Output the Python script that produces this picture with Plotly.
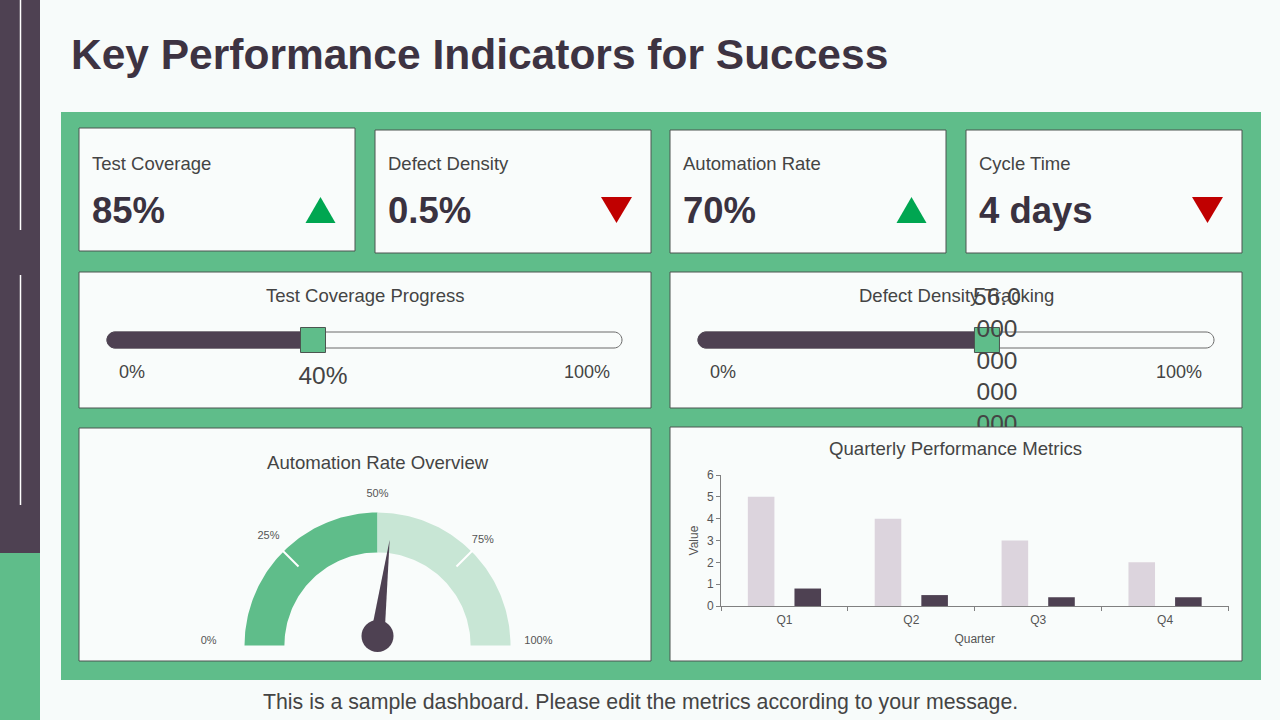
import math
import numpy as np
import plotly.graph_objects as go

W, H = 1280, 720

# ---------------- data ----------------
page_title = "Key Performance Indicators for Success"
footer_text = "This is a sample dashboard. Please edit the metrics according to your message."

kpi_names = ["Test Coverage", "Defect Density", "Automation Rate", "Cycle Time"]
kpi_values = ["85%", "0.5%", "70%", "4 days"]
kpi_trends = ["up", "down", "up", "down"]

progress_titles = ["Test Coverage Progress", "Defect Density Tracking"]
progress_values = [40, 56]
progress_labels = ["40%", "56.0<br>000<br>000<br>000<br>000"]
progress_end_labels = ["0%", "100%"]

gauge_title = "Automation Rate Overview"
gauge_value = 54
gauge_bands = [(0, 50), (50, 100)]
gauge_ticks = [0, 25, 50, 75, 100]
gauge_tick_labels = ["0%", "25%", "50%", "75%", "100%"]

bar_title = "Quarterly Performance Metrics"
quarters = ["Q1", "Q2", "Q3", "Q4"]
series_a = [5, 4, 3, 2]
series_b = [0.8, 0.5, 0.4, 0.4]

# ---------------- style ----------------
FONT = "Liberation Sans, Arial, sans-serif"
BG = "#F7FBFA"
CARD = "#F9FCFB"
GREEN = "#5FBD8A"
LIGHT_GREEN = "#C8E6D5"
PURPLE = "#4E4152"
BORDER = "#4C5550"
TEXT = "#444444"
DARK = "#3A3240"
UP = "#00A651"
DOWN = "#C00000"


def fx(x):
    return x / W


def fy(y):
    return 1 - y / H


shapes = []
annotations = []
fig = go.Figure()


def rect(x0, y0, x1, y1, fill, line=None, lw=0):
    shapes.append(dict(type="rect", xref="paper", yref="paper",
                       x0=fx(x0), x1=fx(x1), y0=fy(y1), y1=fy(y0),
                       fillcolor=fill, line=dict(color=line or fill, width=lw),
                       layer="below"))


def text(x, y, s, size, color=TEXT, xanchor="left", bold=False):
    annotations.append(dict(x=fx(x), y=fy(y), xref="paper", yref="paper",
                            text=f"<b>{s}</b>" if bold else s, showarrow=False,
                            xanchor=xanchor, yanchor="middle",
                            font=dict(size=size, color=color, family=FONT)))


# ---------------- page frame ----------------
rect(0, 0, 40, 553, PURPLE)
rect(0, 553, 40, 720, GREEN)
for y0, y1 in [(0, 230), (275, 505)]:
    shapes.append(dict(type="line", xref="paper", yref="paper", x0=fx(20.5), x1=fx(20.5),
                       y0=fy(y0), y1=fy(y1), line=dict(color="white", width=1.5), layer="below"))
text(69, 55, page_title, 42.5, color="#3D3342", bold=True)
rect(61, 112, 1261, 680, GREEN)
text(640, 702, footer_text, 21.3, color=TEXT, xanchor="center")

# ---------------- KPI cards ----------------
kpi_boxes = [(79, 128, 355, 251), (375, 130, 651, 253), (670, 130, 946, 253), (966, 130, 1242, 253)]
for name, val, trend, (x0, y0, x1, y1) in zip(kpi_names, kpi_values, kpi_trends, kpi_boxes):
    rect(x0, y0, x1, y1, CARD, BORDER, 1)
    text(x0 + 10.5, 164, name, 18.5, TEXT)
    text(x0 + 10.5, 210, val, 36.5, DARK, bold=True)
    cx, cy = x1 - 34.5, 210
    if trend == "up":
        pts = [(cx - 15, cy + 13), (cx + 15, cy + 13), (cx, cy - 13)]
        col = UP
    else:
        pts = [(cx - 15.5, cy - 13), (cx + 15.5, cy - 13), (cx, cy + 13)]
        col = DOWN
    path = "M " + " L ".join(f"{fx(px_):.5f},{fy(py_):.5f}" for px_, py_ in pts) + " Z"
    shapes.append(dict(type="path", xref="paper", yref="paper", path=path,
                       fillcolor=col, line=dict(width=0), layer="below"))

# ---------------- progress cards ----------------
prog_boxes = [(79, 272, 651, 408), (670, 272, 1242, 408)]
tracks = [(107, 622), (698, 1214)]
label_y = [378, 362.5]
BAR_Y = 340
R_PX = 8


def capsule(x0, x1, yc, rx, ry):
    k = 0.5523
    return (f"M {x0 + rx},{yc - ry} L {x1 - rx},{yc - ry} "
            f"C {x1 - rx + k * rx},{yc - ry} {x1},{yc - k * ry} {x1},{yc} "
            f"C {x1},{yc + k * ry} {x1 - rx + k * rx},{yc + ry} {x1 - rx},{yc + ry} "
            f"L {x0 + rx},{yc + ry} "
            f"C {x0 + rx - k * rx},{yc + ry} {x0},{yc + k * ry} {x0},{yc} "
            f"C {x0},{yc - k * ry} {x0 + rx - k * rx},{yc - ry} {x0 + rx},{yc - ry} Z")


layout_axes = {}
for i, (title, v, lab) in enumerate(zip(progress_titles, progress_values, progress_labels)):
    n = i + 1
    xa = "x" if n == 1 else f"x{n}"
    ya = "y" if n == 1 else f"y{n}"
    L, R = tracks[i]
    span = R - L
    pad = 12
    bx0, by0, bx1, by1 = prog_boxes[i]
    rect(bx0, by0, bx1, by1, CARD, BORDER, 1)
    layout_axes["xaxis" if n == 1 else f"xaxis{n}"] = dict(
        domain=[fx(L - pad), fx(R + pad)], range=[-pad / span * 100, 100 + pad / span * 100],
        visible=False, fixedrange=True, automargin=False)
    layout_axes["yaxis" if n == 1 else f"yaxis{n}"] = dict(
        domain=[fy(427), fy(by0)], range=[427, by0], visible=False, fixedrange=True,
        automargin=False)
    rx = R_PX / span * 100
    shapes.append(dict(type="path", xref=xa, yref=ya, path=capsule(0, 100, BAR_Y, rx, R_PX),
                       fillcolor=CARD, line=dict(color="#6A6A6A", width=1), layer="below"))
    shapes.append(dict(type="path", xref=xa, yref=ya, path=capsule(0, v, BAR_Y, rx, R_PX),
                       fillcolor=PURPLE, line=dict(color=PURPLE, width=1), layer="below"))
    fig.add_trace(go.Scatter(x=[v], y=[BAR_Y], mode="markers", xaxis=xa, yaxis=ya,
                             marker=dict(symbol="square", size=25, color=GREEN,
                                         line=dict(color=BORDER, width=1)),
                             cliponaxis=False, hoverinfo="skip", showlegend=False))
    fig.add_trace(go.Scatter(x=[v + 10 / span * 100], y=[label_y[i]], mode="text", text=[lab],
                             textposition="middle center", xaxis=xa, yaxis=ya,
                             textfont=dict(size=24.5, color=TEXT, family=FONT),
                             cliponaxis=True, hoverinfo="skip", showlegend=False))
    text((bx0 + bx1) / 2, 295, title, 18.5, TEXT, xanchor="center")
    text(L + 10, 372, progress_end_labels[0], 18, TEXT, xanchor="left")
    text(R - 10, 372, progress_end_labels[1], 18, TEXT, xanchor="right")

# ---------------- gauge ----------------
rect(79, 428, 651, 661, CARD, BORDER, 1)
text(377.5, 462, gauge_title, 18.6, TEXT, xanchor="center")
CX, CY, S = 377.5, 645.5, 133.0
layout_axes["xaxis3"] = dict(domain=[fx(190), fx(566)], range=[(190 - CX) / S, (566 - CX) / S],
                             visible=False, fixedrange=True, automargin=False)
layout_axes["yaxis3"] = dict(domain=[fy(662), fy(468)], range=[(CY - 662) / S, (CY - 468) / S],
                             visible=False, fixedrange=True, automargin=False)
R_OUT, R_IN = 1.0, 0.70


def ang(v):
    return math.pi * (1 - v / 100.0)


for (a, b), col in zip(gauge_bands, [GREEN, LIGHT_GREEN]):
    vs = np.linspace(a, b, 80)
    th = np.pi * (1 - vs / 100.0)
    xs = list(R_OUT * np.cos(th)) + list(R_IN * np.cos(th[::-1]))
    ys = list(R_OUT * np.sin(th)) + list(R_IN * np.sin(th[::-1]))
    fig.add_trace(go.Scatter(x=xs, y=ys, mode="lines", fill="toself", fillcolor=col,
                             line=dict(width=0, color=col), xaxis="x3", yaxis="y3",
                             hoverinfo="skip", showlegend=False))
for t in gauge_ticks[1:-1]:
    if t == 50:
        continue
    th = ang(t)
    fig.add_trace(go.Scatter(x=[0.84 * math.cos(th), 1.01 * math.cos(th)],
                             y=[0.84 * math.sin(th), 1.01 * math.sin(th)],
                             mode="lines", line=dict(color="white", width=2),
                             xaxis="x3", yaxis="y3", hoverinfo="skip", showlegend=False))
label_r = [1.27, 1.16, 1.14, 1.12, 1.21]
fig.add_trace(go.Scatter(x=[r * math.cos(ang(t)) for r, t in zip(label_r, gauge_ticks)],
                         y=[r * math.sin(ang(t)) + (0.03 if t in (0, 100) else 0) for r, t in zip(label_r, gauge_ticks)],
                         mode="text", text=gauge_tick_labels, textposition="middle center",
                         textfont=dict(size=11, color="#555555", family=FONT),
                         xaxis="x3", yaxis="y3", cliponaxis=False, hoverinfo="skip", showlegend=False))
# needle
px0, py0 = 0.0, (CY - 636) / S
th = ang(gauge_value)
L_N, HW = 0.73, 7 / S
tipx, tipy = px0 + L_N * math.cos(th), py0 + L_N * math.sin(th)
b1x, b1y = px0 + HW * math.cos(th + math.pi / 2), py0 + HW * math.sin(th + math.pi / 2)
b2x, b2y = px0 + HW * math.cos(th - math.pi / 2), py0 + HW * math.sin(th - math.pi / 2)
fig.add_trace(go.Scatter(x=[b1x, tipx, b2x, b1x], y=[b1y, tipy, b2y, b1y], mode="lines",
                         fill="toself", fillcolor=PURPLE, line=dict(width=0, color=PURPLE),
                         xaxis="x3", yaxis="y3", hoverinfo="skip", showlegend=False))
fig.add_trace(go.Scatter(x=[px0], y=[py0], mode="markers",
                         marker=dict(symbol="circle", size=32, color=PURPLE),
                         xaxis="x3", yaxis="y3", cliponaxis=False, hoverinfo="skip", showlegend=False))

# ---------------- bar chart ----------------
rect(670, 427, 1242, 661, CARD, BORDER, 1)
text(955.5, 448, bar_title, 18.6, TEXT, xanchor="center")
fig.add_trace(go.Bar(x=quarters, y=series_a, marker=dict(color="#DCD4DD", line=dict(width=0)),
                     xaxis="x4", yaxis="y4", showlegend=False))
fig.add_trace(go.Bar(x=quarters, y=series_b, marker=dict(color=PURPLE, line=dict(width=0)),
                     xaxis="x4", yaxis="y4", showlegend=False))
axis_common = dict(showline=True, linecolor="#808080", linewidth=1, ticks="outside", ticklen=4,
                   tickcolor="#808080", showgrid=False, zeroline=False, fixedrange=True,
                   automargin=False,
                   tickfont=dict(size=12, color="#555555", family=FONT))
layout_axes["xaxis4"] = dict(domain=[fx(721), fx(1228.5)], anchor="y4", tickson="boundaries",
                             ticklabelstandoff=3,
                             title=dict(text="Quarter", font=dict(size=12, color="#555555", family=FONT),
                                        standoff=8), **axis_common)
layout_axes["yaxis4"] = dict(domain=[fy(606), fy(475)], anchor="x4", range=[0, 6], dtick=1,
                             title=dict(text="Value", font=dict(size=12, color="#555555", family=FONT),
                                        standoff=5), **axis_common)

fig.update_layout(
    width=W, height=H, autosize=False,
    margin=dict(l=0, r=0, t=0, b=0, pad=0, autoexpand=False),
    paper_bgcolor=BG, plot_bgcolor="rgba(0,0,0,0)",
    showlegend=False, barmode="group", bargap=0.265, bargroupgap=0.43,
    shapes=shapes, annotations=annotations,
    font=dict(family=FONT, color=TEXT),
    hovermode=False,
    **layout_axes,
)

fig.write_html("out.html", include_plotlyjs=True, config={"displayModeBar": False})
